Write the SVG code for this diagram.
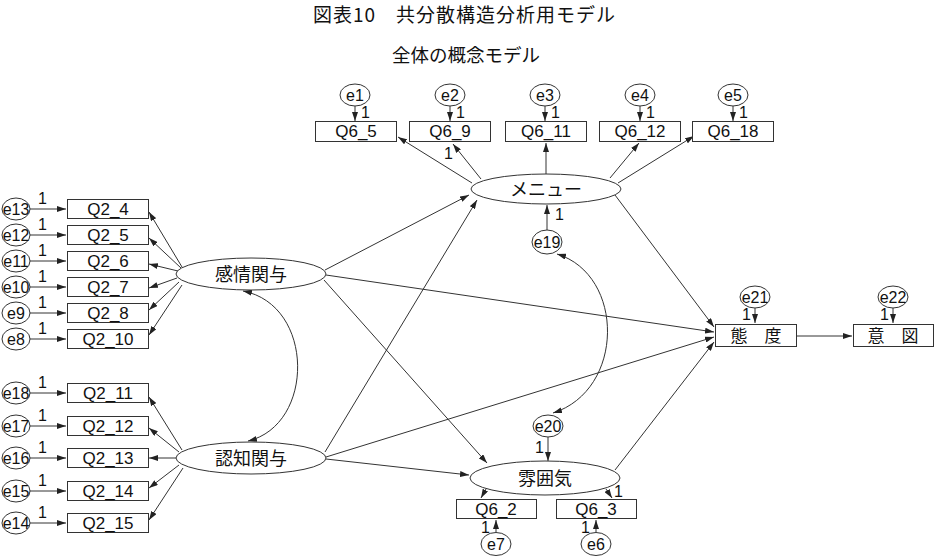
<svg xmlns="http://www.w3.org/2000/svg" width="935" height="560" viewBox="0 0 935 560">
<defs>
<marker id="ah" markerWidth="9" markerHeight="6" refX="9" refY="3" orient="auto-start-reverse" markerUnits="userSpaceOnUse"><path d="M0,0 L9,3 L0,6 z" fill="#222"/></marker>
</defs>
<style>
.bx{fill:#fff;stroke:#333;stroke-width:1}
.el{fill:#fff;stroke:#333;stroke-width:1}
.t{font-family:"Liberation Sans",Arial,sans-serif;font-size:17px;fill:#111;text-anchor:middle}
.e{font-family:"Liberation Sans",Arial,sans-serif;font-size:16px;fill:#111;text-anchor:middle}
.one{font-family:"Liberation Sans",Arial,sans-serif;font-size:16px;fill:#111}
.j{font-family:"Noto Sans CJK JP",sans-serif;font-size:18px;fill:#111;text-anchor:middle}
.ttl{font-family:"Noto Sans CJK JP",sans-serif;font-size:19px;fill:#111}
.c line,.c path{stroke:#333;stroke-width:1;fill:none;marker-end:url(#ah)}
.c path.cov{marker-start:url(#ah)}
</style>
<rect width="935" height="560" fill="#fff"/>
<text class="ttl" x="313" y="22" letter-spacing="1">図表10　共分散構造分析用モデル</text>
<text class="ttl" x="392" y="62" style="font-size:18.5px">全体の概念モデル</text>

<g class="c" id="connectors">
<line x1="355" y1="106" x2="355" y2="121"/>
<line x1="450" y1="106" x2="450" y2="121"/>
<line x1="545" y1="106" x2="545" y2="121"/>
<line x1="640" y1="106" x2="640" y2="121"/>
<line x1="733" y1="106" x2="733" y2="121"/>
<line x1="472" y1="183" x2="398" y2="137"/>
<line x1="481" y1="179" x2="453" y2="144"/>
<line x1="546" y1="174" x2="546" y2="143"/>
<line x1="610" y1="178" x2="639" y2="143"/>
<line x1="618" y1="183" x2="694" y2="136"/>
<line x1="547" y1="230" x2="547" y2="205"/>
<line x1="30" y1="209" x2="66" y2="209"/>
<line x1="30" y1="235" x2="66" y2="235"/>
<line x1="30" y1="261" x2="66" y2="261"/>
<line x1="30" y1="287" x2="66" y2="287"/>
<line x1="30" y1="313" x2="66" y2="313"/>
<line x1="30" y1="339" x2="66" y2="339"/>
<line x1="30" y1="393" x2="66" y2="393"/>
<line x1="30" y1="426" x2="66" y2="426"/>
<line x1="30" y1="458" x2="66" y2="458"/>
<line x1="30" y1="491" x2="66" y2="491"/>
<line x1="30" y1="523" x2="66" y2="523"/>
<line x1="182" y1="267" x2="149" y2="212"/>
<line x1="181" y1="268" x2="149" y2="238"/>
<line x1="178" y1="271" x2="149" y2="264"/>
<line x1="177" y1="278" x2="149" y2="288"/>
<line x1="179" y1="282" x2="149" y2="310"/>
<line x1="182" y1="285" x2="149" y2="335"/>
<line x1="182" y1="450" x2="149" y2="397"/>
<line x1="179" y1="452" x2="149" y2="428"/>
<line x1="176" y1="458" x2="149" y2="458"/>
<line x1="179" y1="465" x2="149" y2="488"/>
<line x1="183" y1="468" x2="149" y2="520"/>
<line x1="325" y1="270" x2="469" y2="195"/>
<line x1="325" y1="452" x2="477" y2="200"/>
<line x1="326" y1="275" x2="714" y2="332"/>
<line x1="326" y1="457" x2="714" y2="337"/>
<line x1="324" y1="280" x2="487" y2="463"/>
<line x1="326" y1="459" x2="469" y2="475"/>
<line x1="615" y1="195" x2="714" y2="327"/>
<line x1="615" y1="470" x2="714" y2="342"/>
<line x1="796" y1="336" x2="852" y2="336"/>
<path class="cov" d="M243,291 C315,305 315,425 248,441"/>
<path class="cov" d="M557,254 C625,275 625,390 553,413"/>
<line x1="548" y1="437" x2="548" y2="461"/>
<line x1="486" y1="489" x2="481" y2="498"/>
<line x1="606" y1="489" x2="612" y2="498"/>
<line x1="496" y1="532" x2="496" y2="520"/>
<line x1="596" y1="532" x2="596" y2="520"/>
<line x1="755" y1="308" x2="755" y2="323"/>
<line x1="893" y1="308" x2="893" y2="323"/>
</g>

<g id="labels1">
<text class="one" x="361" y="118">1</text>
<text class="one" x="456" y="118">1</text>
<text class="one" x="551" y="118">1</text>
<text class="one" x="646" y="118">1</text>
<text class="one" x="739" y="118">1</text>
<text class="one" x="444" y="159">1</text>
<text class="one" x="555" y="220">1</text>
<text class="one" x="38" y="204">1</text>
<text class="one" x="38" y="230">1</text>
<text class="one" x="38" y="256">1</text>
<text class="one" x="38" y="282">1</text>
<text class="one" x="38" y="308">1</text>
<text class="one" x="38" y="334">1</text>
<text class="one" x="38" y="388">1</text>
<text class="one" x="38" y="421">1</text>
<text class="one" x="38" y="453">1</text>
<text class="one" x="38" y="486">1</text>
<text class="one" x="38" y="518">1</text>
<text class="one" x="535" y="453">1</text>
<text class="one" x="614" y="497">1</text>
<text class="one" x="481" y="533">1</text>
<text class="one" x="581" y="533">1</text>
<text class="one" x="742" y="320">1</text>
<text class="one" x="880" y="320">1</text>
</g>

<g id="e1"><ellipse class="el" cx="355" cy="95" rx="15" ry="11"/><text class="e" x="355" y="101">e1</text></g>
<g id="e2"><ellipse class="el" cx="450" cy="95" rx="15" ry="11"/><text class="e" x="450" y="101">e2</text></g>
<g id="e3"><ellipse class="el" cx="545" cy="95" rx="15" ry="11"/><text class="e" x="545" y="101">e3</text></g>
<g id="e4"><ellipse class="el" cx="640" cy="95" rx="15" ry="11"/><text class="e" x="640" y="101">e4</text></g>
<g id="e5"><ellipse class="el" cx="733" cy="95" rx="15" ry="11"/><text class="e" x="733" y="101">e5</text></g>

<g id="Q6_5"><rect class="bx" x="315.5" y="121.5" width="81" height="20"/><text class="t" x="356" y="137">Q6_5</text></g>
<g id="Q6_9"><rect class="bx" x="409.5" y="121.5" width="81" height="20"/><text class="t" x="450" y="137">Q6_9</text></g>
<g id="Q6_11"><rect class="bx" x="505.5" y="121.5" width="81" height="20"/><text class="t" x="546" y="137">Q6_11</text></g>
<g id="Q6_12"><rect class="bx" x="599.5" y="121.5" width="81" height="20"/><text class="t" x="640" y="137">Q6_12</text></g>
<g id="Q6_18"><rect class="bx" x="692.5" y="121.5" width="81" height="20"/><text class="t" x="733" y="137">Q6_18</text></g>

<g id="menu"><ellipse class="el" cx="546" cy="189" rx="75" ry="15"/><text class="j" x="546" y="196">メニュー</text></g>
<g id="e19"><ellipse class="el" cx="547" cy="242" rx="15" ry="12"/><text class="e" x="547" y="248">e19</text></g>

<g id="e13"><ellipse class="el" cx="16" cy="209" rx="14" ry="11"/><text class="e" x="16" y="215">e13</text></g>
<g id="e12"><ellipse class="el" cx="16" cy="235" rx="14" ry="11"/><text class="e" x="16" y="241">e12</text></g>
<g id="e11"><ellipse class="el" cx="16" cy="261" rx="14" ry="11"/><text class="e" x="16" y="267">e11</text></g>
<g id="e10"><ellipse class="el" cx="16" cy="287" rx="14" ry="11"/><text class="e" x="16" y="293">e10</text></g>
<g id="e9"><ellipse class="el" cx="16" cy="313" rx="14" ry="11"/><text class="e" x="16" y="319">e9</text></g>
<g id="e8"><ellipse class="el" cx="16" cy="339" rx="14" ry="11"/><text class="e" x="16" y="345">e8</text></g>
<g id="e18"><ellipse class="el" cx="16" cy="393" rx="14" ry="11"/><text class="e" x="16" y="399">e18</text></g>
<g id="e17"><ellipse class="el" cx="16" cy="426" rx="14" ry="11"/><text class="e" x="16" y="432">e17</text></g>
<g id="e16"><ellipse class="el" cx="16" cy="458" rx="14" ry="11"/><text class="e" x="16" y="464">e16</text></g>
<g id="e15"><ellipse class="el" cx="16" cy="491" rx="14" ry="11"/><text class="e" x="16" y="497">e15</text></g>
<g id="e14"><ellipse class="el" cx="16" cy="523" rx="14" ry="11"/><text class="e" x="16" y="529">e14</text></g>

<g id="Q2_4"><rect class="bx" x="67.5" y="199.5" width="81" height="19"/><text class="t" x="108" y="215">Q2_4</text></g>
<g id="Q2_5"><rect class="bx" x="67.5" y="225.5" width="81" height="19"/><text class="t" x="108" y="241">Q2_5</text></g>
<g id="Q2_6"><rect class="bx" x="67.5" y="251.5" width="81" height="19"/><text class="t" x="108" y="267">Q2_6</text></g>
<g id="Q2_7"><rect class="bx" x="67.5" y="277.5" width="81" height="19"/><text class="t" x="108" y="293">Q2_7</text></g>
<g id="Q2_8"><rect class="bx" x="67.5" y="303.5" width="81" height="19"/><text class="t" x="108" y="319">Q2_8</text></g>
<g id="Q2_10"><rect class="bx" x="67.5" y="329.5" width="81" height="19"/><text class="t" x="108" y="345">Q2_10</text></g>
<g id="Q2_11"><rect class="bx" x="67.5" y="383.5" width="81" height="19"/><text class="t" x="108" y="399">Q2_11</text></g>
<g id="Q2_12"><rect class="bx" x="67.5" y="416.5" width="81" height="19"/><text class="t" x="108" y="432">Q2_12</text></g>
<g id="Q2_13"><rect class="bx" x="67.5" y="448.5" width="81" height="19"/><text class="t" x="108" y="464">Q2_13</text></g>
<g id="Q2_14"><rect class="bx" x="67.5" y="481.5" width="81" height="19"/><text class="t" x="108" y="497">Q2_14</text></g>
<g id="Q2_15"><rect class="bx" x="67.5" y="513.5" width="81" height="19"/><text class="t" x="108" y="529">Q2_15</text></g>

<g id="emotion"><ellipse class="el" cx="251" cy="274" rx="75" ry="16"/><text class="j" x="251" y="281">感情関与</text></g>
<g id="cognition"><ellipse class="el" cx="251" cy="458" rx="75" ry="16"/><text class="j" x="251" y="465">認知関与</text></g>

<g id="e20"><ellipse class="el" cx="548" cy="426" rx="15" ry="11"/><text class="e" x="548" y="432">e20</text></g>
<g id="atmosphere"><ellipse class="el" cx="545" cy="478" rx="75" ry="17"/><text class="j" x="545" y="485">雰囲気</text></g>
<g id="Q6_2"><rect class="bx" x="456.5" y="499.5" width="80" height="19"/><text class="t" x="496" y="515">Q6_2</text></g>
<g id="Q6_3"><rect class="bx" x="556.5" y="499.5" width="80" height="19"/><text class="t" x="596" y="515">Q6_3</text></g>
<g id="e7"><ellipse class="el" cx="496" cy="544" rx="15" ry="11.5"/><text class="e" x="496" y="550">e7</text></g>
<g id="e6"><ellipse class="el" cx="596" cy="544" rx="15" ry="11.5"/><text class="e" x="596" y="550">e6</text></g>

<g id="e21"><ellipse class="el" cx="755" cy="297" rx="15" ry="11"/><text class="e" x="755" y="303">e21</text></g>
<g id="attitude"><rect class="bx" x="715.5" y="324.5" width="81" height="22"/><text class="j" x="756" y="342" style="font-size:17px">態　度</text></g>
<g id="e22"><ellipse class="el" cx="893" cy="297" rx="15" ry="11"/><text class="e" x="893" y="303">e22</text></g>
<g id="intention"><rect class="bx" x="853.5" y="324.5" width="80" height="22"/><text class="j" x="893" y="342" style="font-size:17px">意　図</text></g>
</svg>
